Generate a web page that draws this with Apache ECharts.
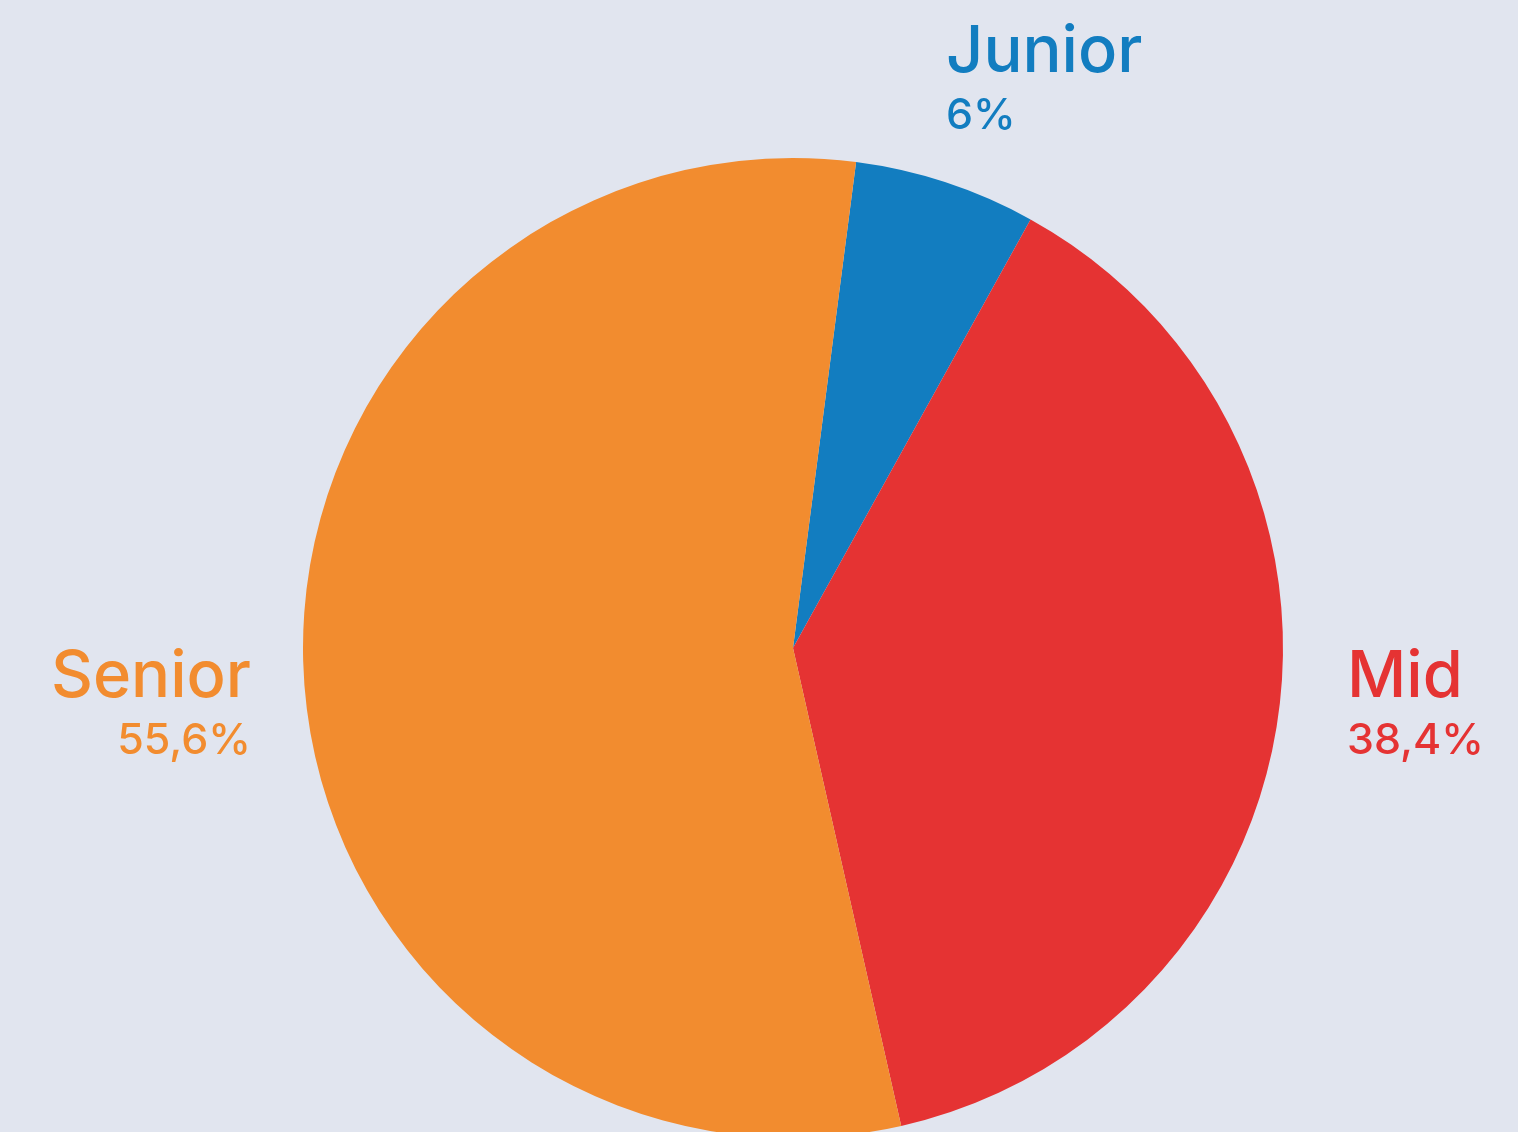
<!DOCTYPE html>
<html>
<head>
<meta charset="utf-8">
<script src="https://cdn.jsdelivr.net/npm/echarts@6/dist/echarts.min.js"></script>
<style>
html,body{margin:0;padding:0;background:#E1E5EF;}
#chart{width:1518px;height:1132px;}
</style>
</head>
<body>
<div id="chart"></div>
<script>
const categories = ['Junior', 'Mid', 'Senior'];
const values = [6, 38.4, 55.6];
const colors = ['#127DC0', '#E53333', '#F28C2F'];

const labelSpots = {
  Junior: {x: 946, y: 21, align: 'left'},
  Mid: {x: 1347, y: 646, align: 'left'},
  Senior: {x: 251, y: 646, align: 'right'}
};

const chart = echarts.init(document.getElementById('chart'));
chart.setOption({
  backgroundColor: '#E1E5EF',
  animation: false,
  series: [{
    type: 'pie',
    center: [793, 648],
    radius: 490,
    startAngle: 82.6,
    clockwise: true,
    itemStyle: {borderWidth: 0},
    labelLine: {show: false},
    label: {
      show: true,
      position: 'outside',
      fontFamily: 'Inter',
      formatter: function (p) {
        return '{n|' + p.name + '}\n{p|' + String(p.value).replace('.', ',') + '%}';
      },
      rich: {
        n: {fontSize: 65, lineHeight: 62, fontFamily: 'Inter', fontWeight: 500},
        p: {fontSize: 43, lineHeight: 66, fontFamily: 'Inter', fontWeight: 500}
      }
    },
    labelLayout: function (params) {
      const name = categories[params.dataIndex];
      const s = labelSpots[name];
      return {x: s.x, y: s.y, align: s.align, verticalAlign: 'top'};
    },
    data: categories.map((c, i) => ({
      name: c,
      value: values[i],
      itemStyle: {color: colors[i]},
      label: {color: colors[i], rich: {n: {color: colors[i]}, p: {color: colors[i]}}}
    }))
  }]
});
</script>
</body>
</html>
